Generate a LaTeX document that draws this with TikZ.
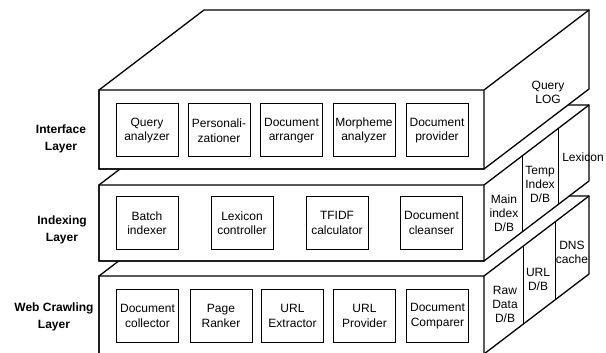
\documentclass[tikz,border=0pt]{standalone}
\usepackage{fontspec}
\setmainfont{Liberation Sans}
\usepackage{tikz}

\begin{document}
\begin{tikzpicture}[x=1pt,y=-1pt,
	slab/.style={draw,fill=white,line width=1.3pt,line join=miter},
	module/.style={draw,line width=1pt,minimum width=62pt,minimum height=53pt,align=center,inner sep=1pt,font=\fontsize{12}{14.5}\selectfont},
	layer/.style={align=center,font=\bfseries\fontsize{12}{17}\selectfont},
	store/.style={align=center,inner sep=0pt,font=\fontsize{12}{14}\selectfont}]
	
	\useasboundingbox (0,0) rectangle (606,353);
	
	% Slabs, back to front
	\foreach \t/\b in {276/354, 185/261, 90/169}{
		\filldraw[slab] (99,\t) -- (204,\t-80) -- (589,\t-80) -- (589,\b-80) -- (484,\b) -- (99,\b) -- cycle;
		\draw[slab,fill=none] (99,\t) rectangle (484,\b) (484,\t) -- (589,\t-80);
	}
	
	% Side partitions
	\foreach \x/\t/\b in {522/185/261, 558/185/261, 523/276/354, 555/276/354}
	\draw[line width=1pt] (\x,{\t-(\x-484)*80/105}) -- (\x,{\b-(\x-484)*80/105});
	
	% Layer names
	\node[layer] (lyI) at (61,139) {Interface\\Layer};
	\node[layer] (lyX) at (62,230) {Indexing\\Layer};
	\node[layer] (lyW) at (54,317) {Web Crawling\\Layer};
	
	% Interface layer
	\foreach \name/\x/\txt in {qan/147/{Query\\analyzer}, pers/219/{Personali-\\zationer}, darr/291.5/{Document\\arranger}, morph/364/{Morpheme\\analyzer}, dprov/437/{Document\\provider}}
	\node[module] (\name) at (\x,130.5) {\txt};
	
	% Indexing layer
	\foreach \name/\x/\txt in {bidx/147/{Batch\\indexer}, lexc/242/{Lexicon\\controller}, tfidf/337/{TFIDF\\calculator}, dcln/431.5/{Document\\cleanser}}
	\node[module] (\name) at (\x,223) {\txt};
	
	% Web crawling layer
	\foreach \name/\x/\txt in {dcol/147.5/{Document\\collector}, prank/221/{Page\\Ranker}, uext/292.5/{URL\\Extractor}, uprov/364.5/{URL\\Provider}, dcmp/437.5/{Document\\Comparer}}
	\node[module] (\name) at (\x,316) {\txt};
	
	% Stores on the side faces
	\node[store] (qlog) at (548,92) {Query\\LOG};
	\node[store] (mainidx) at (504,213) {Main\\index\\D/B};
	\node[store] (tempidx) at (540,184) {Temp\\Index\\D/B};
	\node[store] (lexdb) at (583,157) {Lexicon};
	\node[store] (rawdb) at (505,304) {Raw\\Data\\D/B};
	\node[store] (urldb) at (538,279) {URL\\D/B};
	\node[store] (dns) at (572,252) {DNS\\cache};
\end{tikzpicture}
\end{document}
